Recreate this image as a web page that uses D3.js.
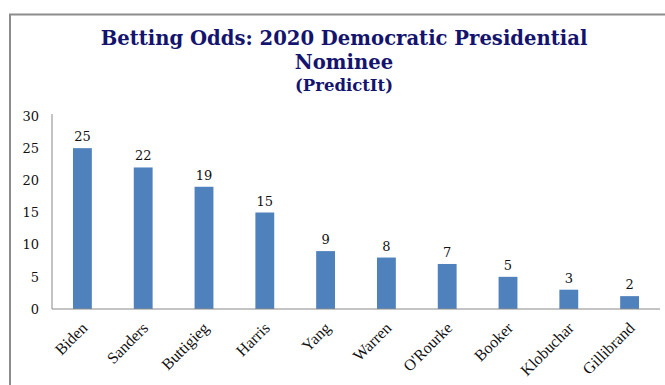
<!DOCTYPE html>
<html><head><meta charset="utf-8">
<script src="https://cdn.jsdelivr.net/npm/d3@7"></script>
<style>body{margin:0;background:#fff}svg{display:block}</style>
</head><body>
<script>
const categories = ["Biden","Sanders","Buttigieg","Harris","Yang","Warren","O'Rourke","Booker","Klobuchar","Gillibrand"];
const values = [25,22,19,15,9,8,7,5,3,2];
const yTicks = [0,5,10,15,20,25,30];
const titleLines = ["Betting Odds: 2020 Democratic Presidential","Nominee"];
const subtitle = "(PredictIt)";

const W=665,H=385;
const svg=d3.select("body").append("svg").attr("width",W).attr("height",H);
const serif="'DejaVu Serif','Liberation Serif',serif";
const times="'Liberation Serif','DejaVu Serif',serif";

// frame
svg.append("path").attr("d","M10,400 L10,14.5 L665,14.5").attr("fill","none").attr("stroke","#8c8c8c").attr("stroke-width",2);

const x=d3.scaleBand().domain(categories).range([52,660]).paddingInner(0.69).paddingOuter(0.345);
const y=d3.scaleLinear().domain([0,30]).range([309,116]);

svg.selectAll("text.t").data(titleLines).join("text").attr("class","t")
 .attr("x",344).attr("y",(d,i)=>45+i*24).attr("text-anchor","middle")
 .attr("font-family",serif).attr("font-weight","bold").attr("font-size",19.6).attr("fill","#14146e").text(d=>d);
svg.append("text").attr("x",344).attr("y",91).attr("text-anchor","middle")
 .attr("font-family",serif).attr("font-weight","bold").attr("font-size",16.5).attr("fill","#14146e").text(subtitle);

svg.selectAll("rect.bar").data(values).join("rect").attr("class","bar")
 .attr("x",(d,i)=>x(categories[i])).attr("width",x.bandwidth())
 .attr("y",d=>y(d)).attr("height",d=>y(0)-y(d)).attr("fill","#4f81bd");

svg.selectAll("text.v").data(values).join("text").attr("class","v")
 .attr("x",(d,i)=>x(categories[i])+x.bandwidth()/2).attr("y",d=>y(d)-7)
 .attr("text-anchor","middle").attr("font-family",serif).attr("font-size",13).attr("fill","#111").text(d=>d);

const ya=svg.append("g").attr("transform","translate(52,0)").call(d3.axisLeft(y).tickValues(yTicks).tickSize(0).tickPadding(13));
ya.select(".domain").attr("stroke","#888").attr("d","M0,114V309");
ya.selectAll("text").attr("font-family",serif).attr("font-size",13).attr("fill","#111");

const xa=svg.append("g").attr("transform","translate(0,309)").call(d3.axisBottom(x).tickSize(0).tickPadding(0));
xa.select(".domain").attr("stroke","#888").attr("d","M52,0H660");
xa.selectAll("text").attr("font-family",times).attr("font-size",16).attr("fill","#111")
 .attr("text-anchor","end").attr("dy",null).attr("y",0)
 .attr("transform","translate(6,20) rotate(-45)");
</script>
</body></html>
